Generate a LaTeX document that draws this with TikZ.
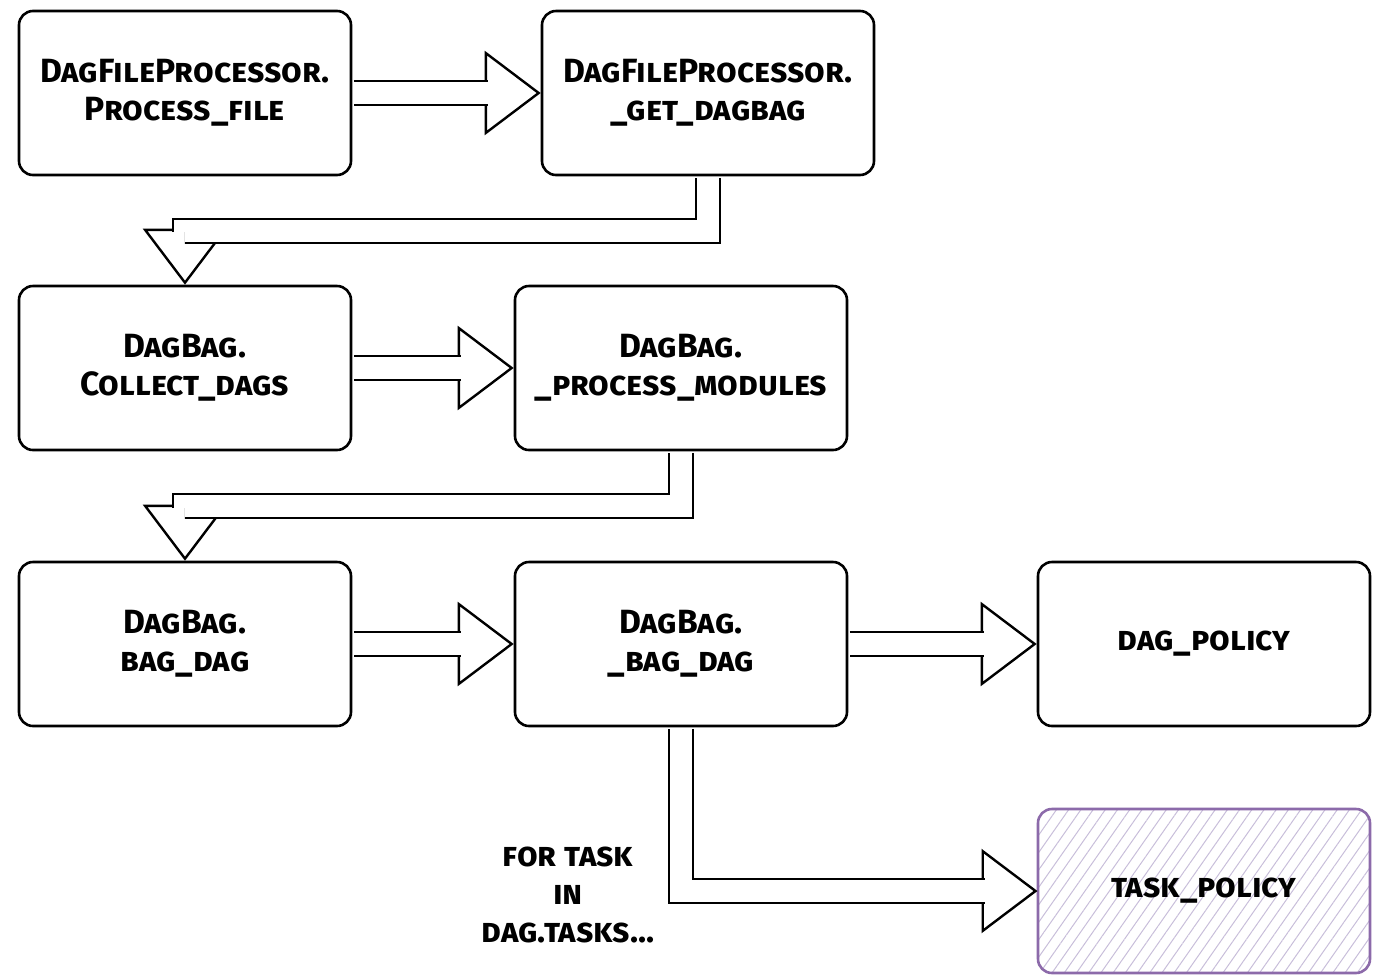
\documentclass[tikz,border=0pt]{standalone}
\usepackage{fontspec}
\setmainfont{Fira Sans}
\usepackage{tikz}
\usetikzlibrary{arrows.meta,patterns.meta}

\definecolor{lilac}{RGB}{140,106,170}
\definecolor{hatch}{RGB}{200,190,218}

\tikzset{
  fn/.style={draw, line width=1.3pt, rounded corners=7pt, minimum width=166pt,
    minimum height=82pt, align=center, font=\fontsize{16.8}{19}\selectfont\bfseries\scshape},
  marked/.style={fn, draw=lilac, pattern={Lines[angle=55,distance=5pt,line width=0.5pt]},
    pattern color=hatch},
  note/.style={align=center, font=\fontsize{16.8}{19}\selectfont\bfseries\scshape},
  fathead/.style={line width=1.2pt, shorten <=3pt,
    -{Triangle[fill=white, length=28pt, width=42pt, line width=1.2pt]}},
  fatshaft/.style={double=white, double distance=11pt, line width=1.2pt,
    shorten >=26.5pt, shorten <=0.8pt},
}
\newcommand{\fatarrow}[1]{\draw[fathead] #1; \draw[fatshaft] #1;}

\begin{document}
\begin{tikzpicture}[x=0.5pt, y=-0.5pt]
    \useasboundingbox (0, 0) rectangle (1383, 976);

    % first row
    \node[fn] (pf) at (185, 93) {DagFileProcessor.\\Process\_file};
    \node[fn] (gdb) at (708, 93) {DagFileProcessor.\\\_get\_dagbag};
    % second row
    \node[fn] (cd) at (185, 368) {DagBag.\\Collect\_dags};
    \node[fn] (pm) at (681, 368) {DagBag.\\\_process\_modules};
    % third row
    \node[fn] (bd) at (185, 644) {DagBag.\\bag\_dag};
    \node[fn] (bbd) at (681, 644) {DagBag.\\\_bag\_dag};
    \node[fn] (dp) at (1204, 644) {dag\_policy};
    \node[marked] (tp) at (1204, 891) {task\_policy};
    \node[note] (loop) at (568, 895) {for task\\in\\dag.tasks...};

    \coordinate (b1) at (445, 231);
    \coordinate (b2) at (430, 506);

    \fatarrow{(pf.east) -- (gdb.west)}
    \fatarrow{(gdb.south) |- (b1) -| (cd.north)}
    \fatarrow{(cd.east) -- (pm.west)}
    \fatarrow{(pm.south) |- (b2) -| (bd.north)}
    \fatarrow{(bd.east) -- (bbd.west)}
    \fatarrow{(bbd.east) -- (dp.west)}
    \fatarrow{(bbd.south) |- (tp.west)}
\end{tikzpicture}
\end{document}
